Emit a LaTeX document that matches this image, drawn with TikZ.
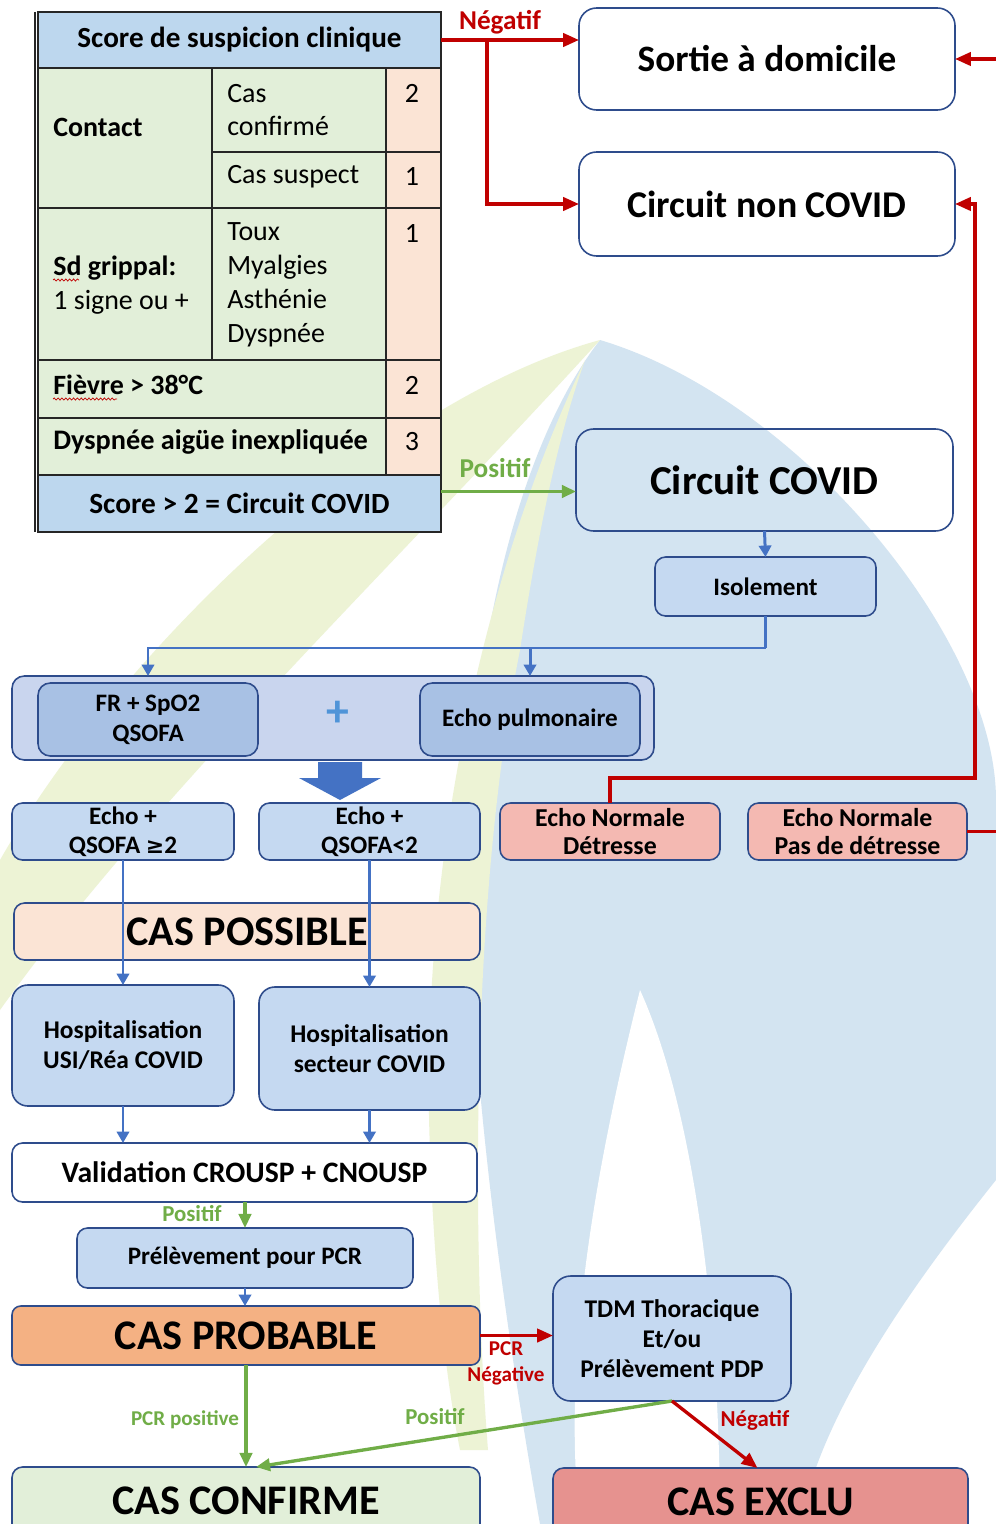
\documentclass[tikz,border=0pt]{standalone}
\usepackage{fontspec}
\setmainfont{Carlito}
\newfontfamily\symfont{DejaVu Sans}
\usetikzlibrary{arrows.meta,calc,decorations.pathmorphing}

\definecolor{navy}{HTML}{2E4C8C}
\definecolor{gridline}{HTML}{262626}
\definecolor{hdrblue}{HTML}{BDD7EE}
\definecolor{cellgreen}{HTML}{E2EFD9}
\definecolor{cellpeach}{HTML}{FBE4D5}
\definecolor{boxblue}{HTML}{C5D9F1}
\definecolor{panelblue}{HTML}{C9D5EE}
\definecolor{innerblue}{HTML}{A8C1E4}
\definecolor{pinkbox}{HTML}{F4B9B2}
\definecolor{orangebox}{HTML}{F4B183}
\definecolor{exclred}{HTML}{E6928F}
\definecolor{arrblue}{HTML}{4472C4}
\definecolor{plusblue}{HTML}{4F94D8}
\definecolor{arrred}{HTML}{C00000}
\definecolor{arrgreen}{HTML}{70AD47}
\definecolor{wmblue}{HTML}{D3E4F1}
\definecolor{wmgreen}{HTML}{EDF3D5}

\newcommand\fsz[2]{\fontsize{#1}{#2}\selectfont}
% box from corner (x1,y1) to corner (x2,y2), in pixel units
\newcommand\placebox[7]{%
  \node[box,#6,minimum width={(#4-#2)*0.02cm},minimum height={(#5-#3)*0.02cm}]
    (#1) at ({(#2+#4)/2},{(#3+#5)/2}) {#7};}

\tikzset{
  box/.style={draw=navy, line width=0.9pt, inner sep=0pt, outer sep=0pt,
    align=center, font=\bfseries\fsz{14.3}{17}},
  bluearr/.style={draw=arrblue, line width=1.7pt, -{Triangle[length=6.5pt,width=7pt]}},
  redarr/.style={draw=arrred, line width=1.9pt, -{Triangle[length=9pt,width=7.5pt]}},
  greenarr/.style={draw=arrgreen, line width=1.9pt, -{Triangle[length=8pt,width=7pt]}},
  lbl/.style={font=\bfseries\fsz{13}{15}, inner sep=1pt},
  cell/.style={inner sep=0pt, anchor=west, align=left, font=\fsz{15.9}{19.3}},
  num/.style={inner sep=0pt, font=\fsz{15.9}{19.3}},
  wavy/.style={draw=arrred, line width=0.4pt,
    decorate, decoration={snake, amplitude=0.6pt, segment length=2.2pt}},
}

\begin{document}
\begin{tikzpicture}[x=0.02cm, y=-0.02cm]
\useasboundingbox (0,0) rectangle (996,1524);
\fill[white] (0,0) rectangle (996,1524);

% ---------- faint logo in the background ----------
\fill[wmblue] (600,340) .. controls (800,400) and (996,640) .. (996,800)
  -- (996,1180) .. controls (900,1300) and (820,1420) .. (800,1524)
  -- (540,1524) .. controls (500,1300) and (460,1000) .. (470,800)
  .. controls (480,600) and (530,430) .. (600,340) -- cycle;
\fill[wmgreen] (600,340) .. controls (380,400) and (120,650) .. (0,860)
  -- (0,1010) .. controls (150,800) and (400,560) .. (600,340) -- cycle;
\fill[wmgreen] (585,360) .. controls (470,600) and (420,900) .. (430,1150)
  .. controls (435,1300) and (450,1400) .. (460,1450)
  -- (488,1450) .. controls (472,1250) and (470,900) .. (520,650)
  .. controls (540,520) and (560,430) .. (585,360) -- cycle;
\fill[white] (640,990) .. controls (600,1150) and (560,1350) .. (580,1524)
  -- (720,1524) .. controls (720,1300) and (690,1100) .. (640,990) -- cycle;

% ---------- score table ----------
\node[inner sep=0pt, outer sep=0pt, fill=hdrblue, minimum width={403*0.02cm},
  minimum height={56*0.02cm}, font=\bfseries\fsz{16.6}{19}] (title) at (239.5,40)
  {Score de suspicion clinique};
\fill[cellgreen] (38,68) rectangle (386,475);
\fill[cellpeach] (386,68) rectangle (441,475);
\node[inner sep=0pt, outer sep=0pt, fill=hdrblue, minimum width={403*0.02cm},
  minimum height={57*0.02cm}, font=\bfseries\fsz{16.7}{19}] (score) at (239.5,503.5)
  {Score > 2 = Circuit COVID};
\draw[gridline, line width=0.8pt] (38,12) rectangle (441,532);
\draw[gridline, line width=0.8pt] (35,12) -- (35,532);
\draw[gridline, line width=0.8pt]
  (38,68) -- (441,68)  (38,208) -- (441,208)  (38,360) -- (441,360)
  (38,418) -- (441,418)  (38,475) -- (441,475)  (212,152) -- (441,152)
  (212,68) -- (212,360)  (386,68) -- (386,475);

\node[cell, font=\bfseries\fsz{15.9}{19.3}] (contact) at (53,127) {Contact};
\node[cell] (cconf) at (227,110) {Cas\\confirmé};
\node[cell] (csusp) at (227,177) {Cas suspect};
\node[cell] (grip) at (53,285) {\textbf{Sd grippal:}\\1 signe ou +};
\node[cell] (signs) at (227,285) {Toux\\Myalgies\\Asthénie\\Dyspnée};
\node[cell, font=\bfseries\fsz{15.9}{19.3}] (fievre) at (53,385) {Fièvre > 38°C};
\node[cell, font=\bfseries\fsz{16.1}{19.3}] (dysp) at (53,442) {Dyspnée aigüe inexpliquée};
\node[num] (n1) at (412,93) {2};
\node[num] (n2) at (412,177) {1};
\node[num] (n3) at (412,234) {1};
\node[num] (n4) at (412,385) {2};
\node[num] (n5) at (412,442) {3};
\draw[wavy] (53,280) -- (79,280);
\draw[wavy] (53,399) -- (117,399);

% ---------- upper right boxes ----------
\placebox{sortie}{579}{8}{955}{110}{fill=white, rounded corners=10pt, font=\bfseries\fsz{21.2}{24}}{Sortie à domicile}
\placebox{ncovid}{579}{152}{955}{256}{fill=white, rounded corners=10pt, font=\bfseries\fsz{21.5}{24}}{Circuit non COVID}
\placebox{covid}{576}{429}{953}{531}{rounded corners=10pt, font=\bfseries\fsz{23.4}{26}}{Circuit COVID}
\placebox{isol}{655}{557}{876}{616}{fill=boxblue, rounded corners=6pt}{Isolement}

% ---------- assessment panel ----------
\placebox{panel}{12}{676}{654}{760}{fill=panelblue, rounded corners=7pt}{}
\placebox{fr}{38}{683}{258}{756}{fill=innerblue, rounded corners=7pt, font=\bfseries\fsz{14.3}{17}}{FR + SpO2\\QSOFA}
\placebox{echo}{420}{683}{640}{756}{fill=innerblue, rounded corners=7pt}{Echo pulmonaire}
\node[text=plusblue, font=\bfseries\fsz{26}{28}, inner sep=0pt] (plus) at (338,714) {+};
\fill[arrblue] (318,762) -- (362,762) -- (362,778) -- (381,778) -- (340,800)
  -- (299,778) -- (318,778) -- cycle;

% ---------- echo results ----------
\placebox{eA}{12}{803}{234}{860}{fill=boxblue, rounded corners=6pt, font=\bfseries\fsz{14.3}{16.4}}{Echo +\\QSOFA {\symfont\bfseries\fsz{12.5}{16.4}≥}2}
\placebox{eB}{259}{803}{480}{860}{fill=boxblue, rounded corners=6pt, font=\bfseries\fsz{14.3}{16.4}}{Echo +\\QSOFA<2}
\placebox{detr}{500}{803}{720}{860}{fill=pinkbox, rounded corners=6pt, font=\bfseries\fsz{14.7}{16.4}}{Echo Normale\\Détresse}
\placebox{pas}{748}{803}{967}{860}{fill=pinkbox, rounded corners=6pt, font=\bfseries\fsz{14.7}{16.4}}{Echo Normale\\Pas de détresse}

% ---------- lower part ----------
\placebox{poss}{14}{903}{480}{960}{fill=cellpeach, rounded corners=6pt, font=\bfseries\fsz{24}{26}}{CAS POSSIBLE}
\placebox{hA}{12}{985}{234}{1106}{fill=boxblue, rounded corners=9pt, font=\bfseries\fsz{14.5}{17}}{Hospitalisation\\USI/Réa COVID}
\placebox{hB}{259}{987}{480}{1110}{fill=boxblue, rounded corners=9pt, font=\bfseries\fsz{14.5}{17}}{Hospitalisation\\secteur COVID}
\placebox{valid}{12}{1143}{477}{1202}{fill=white, rounded corners=6pt, font=\bfseries\fsz{16.9}{19}}{Validation CROUSP + CNOUSP}
\placebox{prel}{77}{1228}{413}{1288}{fill=boxblue, rounded corners=6pt}{Prélèvement pour PCR}
\placebox{prob}{12}{1306}{480}{1365}{fill=orangebox, rounded corners=5pt, font=\bfseries\fsz{24}{26}}{CAS PROBABLE}
\placebox{tdm}{553}{1276}{791}{1401}{fill=boxblue, rounded corners=10pt, font=\bfseries\fsz{14.5}{17}}{TDM Thoracique\\Et/ou\\Prélèvement PDP}
\placebox{conf}{12}{1467}{480}{1535}{fill=cellgreen, rounded corners=6pt, font=\bfseries\fsz{24}{26}}{CAS CONFIRME}
\placebox{excl}{553}{1468}{968}{1535}{fill=exclred, rounded corners=6pt, font=\bfseries\fsz{24}{26}}{CAS EXCLU}

% ---------- connectors ----------
\draw[redarr] (title.east) -- (title.east -| sortie.west);
\draw[redarr] ($(title.east)+(46,0)$) |- (ncovid.west);
\node[lbl, text=arrred, font=\bfseries\fsz{15.5}{18}] (negA) at (500,22) {Négatif};

\draw[greenarr] ($(score.east)+(0,-12)$) -- ($(score.east -| covid.west)+(0,-12)$);
\node[lbl, text=arrgreen, font=\bfseries\fsz{15.5}{18}] (posA) at (495,468) {Positif};

\draw[bluearr] (covid.south) -- (isol.north);
\draw[draw=arrblue, line width=1.9pt] (isol.south) -- ++(0,32) coordinate (fan);
\draw[bluearr] (fan) -| (panel.north -| fr.north);
\draw[bluearr] (fan) -| (panel.north -| echo.north);

\draw[redarr] (detr.north) -- ++(0,-25) -| ([xshift=0.4cm]ncovid.east) -- (ncovid.east);
\draw[redarr] (pas.east) -- ++(36,0) |- (sortie.east);

\draw[bluearr] (eA.south) -- (hA.north);
\draw[bluearr] (eB.south) -- (hB.north);
\draw[bluearr] (hA.south) -- (hA.south |- valid.north);
\draw[bluearr] (hB.south) -- (hB.south |- valid.north);

\draw[greenarr] (prel.north |- valid.south) -- (prel.north);
\node[lbl, text=arrgreen] (posB) at (192,1214) {Positif};
\draw[bluearr] (prel.south) -- (prel.south |- prob.north);

\draw[redarr] (prob.east) -- (prob.east -| tdm.west);
\node[lbl, text=arrred, align=center, font=\bfseries\fsz{12}{14.7}] (pcrneg) at (506,1363) {PCR\\Négative};

\draw[greenarr] (prob.south) -- (prob.south |- conf.north);
\node[lbl, text=arrgreen, font=\bfseries\fsz{12}{14}] (pcrpos) at (185,1420) {PCR positive};
\draw[greenarr] (tdm.south) -- ($(conf.north)+(10,0)$);
\node[lbl, text=arrgreen] (posC) at (435,1417) {Positif};
\draw[redarr] (tdm.south) -- ($(excl.north)+(-3,0)$);
\node[lbl, text=arrred] (negB) at (755,1420) {Négatif};
\end{tikzpicture}
\end{document}
